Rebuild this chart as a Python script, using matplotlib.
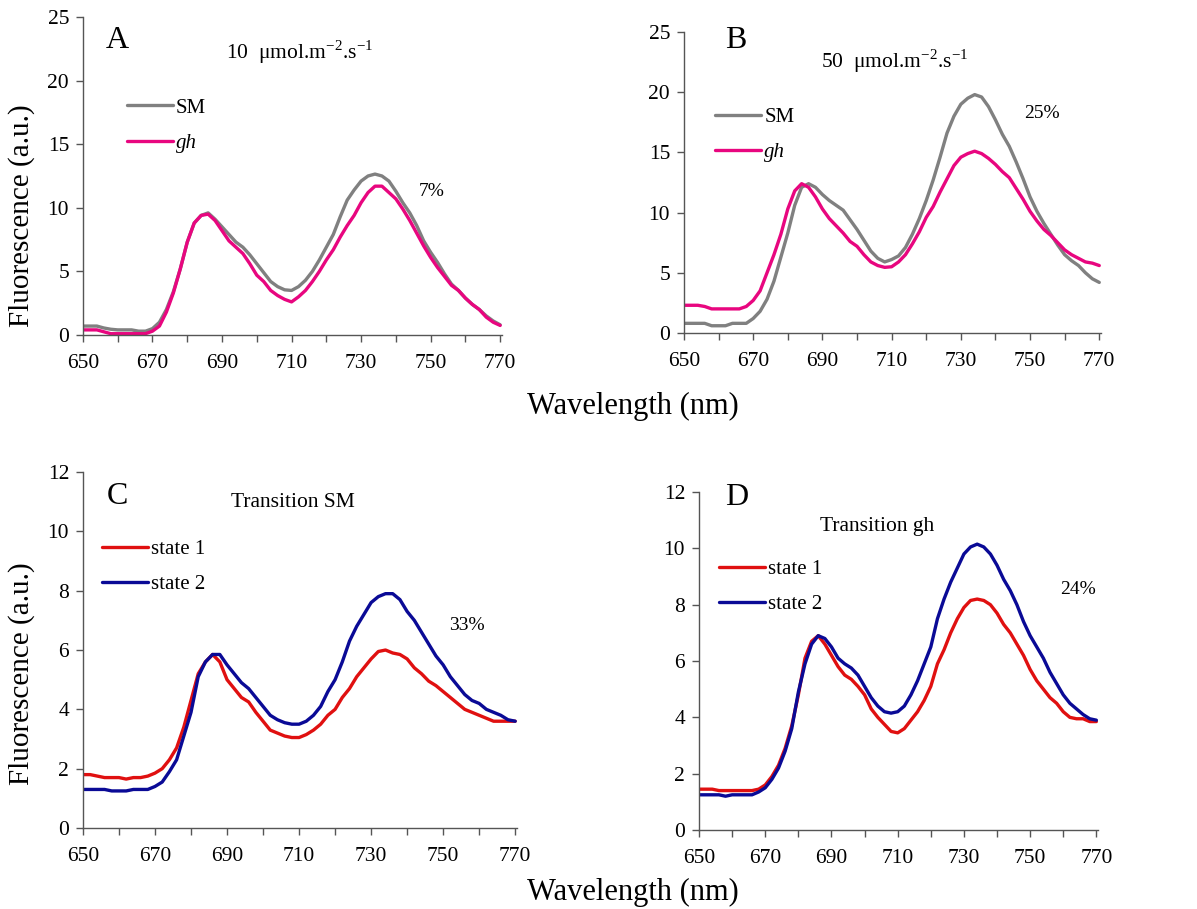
import numpy as np
import matplotlib
matplotlib.use("Agg")
import matplotlib.pyplot as plt

plt.rcParams['font.family'] = ['Liberation Serif', 'DejaVu Serif']
plt.rcParams['mathtext.fontset'] = 'custom'
plt.rcParams['mathtext.rm'] = 'Liberation Serif'

# wavelength grid (nm), every 2 nm
wavelength = list(range(650, 772, 2))

# panel A: 10 umol.m-2.s-1
a_sm = [0.7, 0.7, 0.7, 0.55, 0.45, 0.4, 0.4, 0.4, 0.3, 0.3,
        0.5, 1.0, 2.0, 3.4, 5.2, 7.3, 8.8, 9.4, 9.6, 9.1,
        8.5, 7.9, 7.3, 6.9, 6.3, 5.6, 4.9, 4.2, 3.8, 3.55,
        3.5, 3.8, 4.3, 5.0, 5.9, 6.9, 7.9, 9.3, 10.6, 11.4,
        12.1, 12.5, 12.65, 12.5, 12.1, 11.3, 10.4, 9.6, 8.6, 7.4,
        6.5, 5.7, 4.8, 4.0, 3.5, 2.9, 2.4, 2.0, 1.5, 1.1, 0.8]
a_gh = [0.4, 0.4, 0.4, 0.25, 0.1, 0.1, 0.1, 0.1, 0.1, 0.1,
        0.3, 0.7, 1.8, 3.3, 5.2, 7.3, 8.8, 9.4, 9.5, 9.0,
        8.2, 7.4, 6.9, 6.4, 5.6, 4.7, 4.2, 3.5, 3.1, 2.8,
        2.6, 3.0, 3.5, 4.2, 5.0, 5.9, 6.7, 7.7, 8.6, 9.4,
        10.4, 11.2, 11.7, 11.7, 11.2, 10.7, 9.9, 9.0, 8.0, 7.0,
        6.1, 5.3, 4.6, 3.9, 3.5, 2.9, 2.4, 2.0, 1.4, 1.0, 0.75]

# panel B: 50 umol.m-2.s-1
b_sm = [0.8, 0.8, 0.8, 0.8, 0.6, 0.6, 0.6, 0.8, 0.8, 0.8,
        1.2, 1.8, 2.8, 4.3, 6.3, 8.3, 10.6, 12.1, 12.4, 12.1,
        11.5, 11.0, 10.6, 10.2, 9.4, 8.6, 7.7, 6.8, 6.2, 5.9,
        6.1, 6.4, 7.1, 8.2, 9.5, 11.0, 12.7, 14.6, 16.6, 18.0,
        19.0, 19.5, 19.8, 19.6, 18.8, 17.7, 16.5, 15.5, 14.2, 12.8,
        11.3, 10.1, 9.1, 8.2, 7.3, 6.5, 6.0, 5.6, 5.0, 4.5, 4.2]
b_gh = [2.3, 2.3, 2.3, 2.2, 2.0, 2.0, 2.0, 2.0, 2.0, 2.2,
        2.7, 3.5, 5.0, 6.5, 8.2, 10.3, 11.8, 12.4, 12.1, 11.3,
        10.3, 9.5, 8.9, 8.3, 7.6, 7.2, 6.5, 5.9, 5.6, 5.45,
        5.5, 5.9, 6.5, 7.4, 8.4, 9.6, 10.5, 11.7, 12.8, 13.9,
        14.6, 14.9, 15.1, 14.9, 14.5, 14.0, 13.4, 12.9, 12.0, 11.1,
        10.1, 9.3, 8.6, 8.1, 7.5, 6.9, 6.5, 6.2, 5.9, 5.8, 5.6]

# panel C: transition SM
c_s1 = [1.8, 1.8, 1.75, 1.7, 1.7, 1.7, 1.65, 1.7, 1.7, 1.75,
        1.85, 2.0, 2.3, 2.7, 3.4, 4.3, 5.2, 5.6, 5.85, 5.6,
        5.0, 4.7, 4.4, 4.25, 3.9, 3.6, 3.3, 3.2, 3.1, 3.05,
        3.05, 3.15, 3.3, 3.5, 3.8, 4.0, 4.4, 4.7, 5.1, 5.4,
        5.7, 5.95, 6.0, 5.9, 5.85, 5.7, 5.4, 5.2, 4.95, 4.8,
        4.6, 4.4, 4.2, 4.0, 3.9, 3.8, 3.7, 3.6, 3.6, 3.6, 3.6]
c_s2 = [1.3, 1.3, 1.3, 1.3, 1.25, 1.25, 1.25, 1.3, 1.3, 1.3,
        1.4, 1.55, 1.9, 2.3, 3.1, 3.9, 5.1, 5.6, 5.85, 5.85,
        5.5, 5.2, 4.9, 4.7, 4.4, 4.1, 3.8, 3.65, 3.55, 3.5,
        3.5, 3.6, 3.8, 4.1, 4.6, 5.0, 5.6, 6.3, 6.8, 7.2,
        7.6, 7.8, 7.9, 7.9, 7.7, 7.3, 7.0, 6.6, 6.2, 5.8,
        5.5, 5.1, 4.8, 4.5, 4.3, 4.2, 4.0, 3.9, 3.8, 3.65, 3.6]

# panel D: transition gh
d_s1 = [1.45, 1.45, 1.45, 1.4, 1.4, 1.4, 1.4, 1.4, 1.4, 1.45,
        1.6, 1.9, 2.3, 2.9, 3.7, 4.8, 6.1, 6.7, 6.9, 6.6,
        6.2, 5.8, 5.5, 5.35, 5.1, 4.8, 4.3, 4.0, 3.75, 3.5,
        3.45, 3.6, 3.9, 4.2, 4.6, 5.1, 5.9, 6.4, 7.0, 7.5,
        7.9, 8.15, 8.2, 8.15, 8.0, 7.7, 7.3, 7.0, 6.6, 6.2,
        5.7, 5.3, 5.0, 4.7, 4.5, 4.2, 4.0, 3.95, 3.95, 3.85, 3.85]
d_s2 = [1.25, 1.25, 1.25, 1.25, 1.2, 1.25, 1.25, 1.25, 1.25, 1.35,
        1.5, 1.8, 2.2, 2.8, 3.6, 4.9, 5.9, 6.6, 6.9, 6.8,
        6.5, 6.1, 5.9, 5.75, 5.5, 5.1, 4.7, 4.4, 4.2, 4.15,
        4.2, 4.4, 4.8, 5.3, 5.9, 6.5, 7.5, 8.2, 8.8, 9.3,
        9.8, 10.05, 10.15, 10.05, 9.8, 9.4, 8.9, 8.5, 8.0, 7.4,
        6.9, 6.5, 6.1, 5.6, 5.2, 4.8, 4.5, 4.3, 4.1, 3.95, 3.9]

x_ticks = list(range(650, 780, 10))
x_labels = [str(t) if (t - 650) % 20 == 0 else '' for t in x_ticks]

GRAY = '#808080'
PINK = '#e8067f'
RED = '#e01010'
BLUE = '#0a0a96'
AXC = '#555555'

W, H = 1197, 909
fig = plt.figure(figsize=(W / 100, H / 100), dpi=100)


def fx(px):
    return px / W


def fy(py):
    return 1 - py / H


panels = [
    # rect, letter + pixel pos, series, ymax, ystep, title + pos, pct + pos, legend anchor
    ([0.0693, 0.6315, 0.3500, 0.3498], 'A', (117, 40),
     [(a_sm, GRAY, 'SM'), (a_gh, PINK, 'gh')], 25, 5,
     '10  μmol.m$^{-2}$.s$^{-1}$', (300, 52), '7%', (432, 192), (0.105, 0.745)),
    ([0.5714, 0.6337, 0.3484, 0.3311], 'B', (736, 40),
     [(b_sm, GRAY, 'SM'), (b_gh, PINK, 'gh')], 25, 5,
     '50  μmol.m$^{-2}$.s$^{-1}$', (895, 61), '25%', (1042, 114), (0.075, 0.75)),
    ([0.0693, 0.0891, 0.3626, 0.3916], 'C', (117, 497),
     [(c_s1, RED, 'state 1'), (c_s2, BLUE, 'state 2')], 12, 2,
     'Transition SM', (293, 503), '33%', (467, 625), (0.045, 0.81)),
    ([0.5840, 0.0869, 0.3333, 0.3718], 'D', (737, 498),
     [(d_s1, RED, 'state 1'), (d_s2, BLUE, 'state 2')], 12, 2,
     'Transition gh', (877, 527), '24%', (1078, 590), (0.05, 0.80)),
]

for rect, letter, lxy, series, ymax, ystep, title, txy, pct, pxy, lpos in panels:
    ax = fig.add_axes(rect)
    for vals, col, lab in series:
        ax.plot(wavelength, vals, color=col, lw=2.4, label=lab,
                solid_capstyle='round')
    ax.set_xlim(650, 770.5)
    ax.set_ylim(0, ymax)
    ax.set_xticks(x_ticks)
    ax.set_xticklabels(x_labels)
    yt = np.arange(0, ymax + 0.1, ystep)
    ax.set_yticks(yt)
    ax.set_yticklabels([str(int(v)) for v in yt])
    for s in ['top', 'right']:
        ax.spines[s].set_visible(False)
    for s in ['left', 'bottom']:
        ax.spines[s].set_color(AXC)
        ax.spines[s].set_linewidth(1.0)
    ax.tick_params(axis='both', direction='out', length=5, width=1.0,
                   color=AXC, labelsize=15.5, pad=5)
    ax.tick_params(axis='x', pad=9)
    fig.text(fx(lxy[0]), fy(lxy[1]), letter, fontsize=23,
             ha='center', va='center')
    fig.text(fx(txy[0]), fy(txy[1]), title, fontsize=15.5,
             ha='center', va='center')
    fig.text(fx(pxy[0]), fy(pxy[1]), pct, fontsize=14,
             ha='center', va='center')
    leg = ax.legend(loc='upper left', bbox_to_anchor=lpos, frameon=False,
                    fontsize=15, handlelength=2.2, handletextpad=0.15,
                    labelspacing=0.75, borderpad=0, borderaxespad=0)
    if series[1][2] == 'gh':
        leg.get_texts()[1].set_style('italic')

fig.text(fx(22), fy(216), 'Fluorescence (a.u.)', rotation=90,
         fontsize=21, ha='center', va='center')
fig.text(fx(22), fy(674), 'Fluorescence (a.u.)', rotation=90,
         fontsize=21, ha='center', va='center')
fig.text(fx(633), fy(406), 'Wavelength (nm)', fontsize=22,
         ha='center', va='center')
fig.text(fx(633), fy(892), 'Wavelength (nm)', fontsize=22,
         ha='center', va='center')

fig.savefig('out.png', dpi=100)
